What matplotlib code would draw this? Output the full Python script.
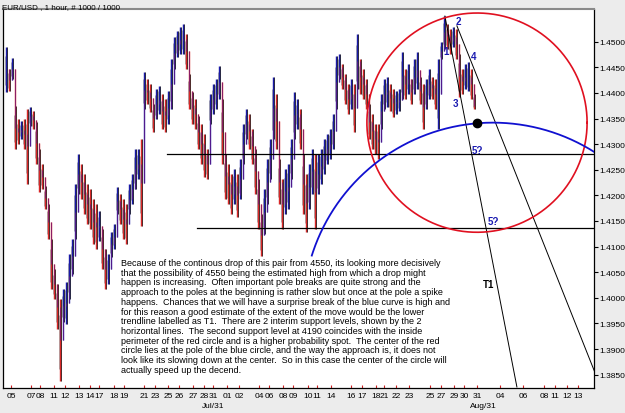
import matplotlib
matplotlib.use('agg')
import matplotlib.pyplot as plt
import matplotlib.transforms as mtransforms
import numpy as np

plt.rcParams["font.family"] = ["Liberation Sans", "DejaVu Sans"]

# price data, one entry per group of hourly bars
highs = [1.4490, 1.4447, 1.4468, 1.4374, 1.4349, 1.4345, 1.4349, 1.4369, 1.4373, 1.4365,
         1.4343, 1.4291, 1.4261, 1.4218, 1.4183, 1.4115, 1.4056, 1.4027, 1.3998, 1.4017,
         1.4031, 1.4086, 1.4115, 1.4222, 1.4281, 1.4261, 1.4242, 1.4222, 1.4212, 1.4193,
         1.4183, 1.4169, 1.4134, 1.4095, 1.4086, 1.4129, 1.4144, 1.4216, 1.4203, 1.4193,
         1.4183, 1.4222, 1.4242, 1.4291, 1.4291, 1.4310, 1.4441, 1.4427, 1.4417, 1.4378,
         1.4408, 1.4414, 1.4398, 1.4388, 1.4404, 1.4466, 1.4509, 1.4521, 1.4529, 1.4535,
         1.4515, 1.4437, 1.4402, 1.4388, 1.4355, 1.4339, 1.4320, 1.4291, 1.4398, 1.4417,
         1.4427, 1.4453, 1.4388, 1.4281, 1.4261, 1.4242, 1.4252, 1.4242, 1.4271, 1.4339,
         1.4369, 1.4359, 1.4330, 1.4291, 1.4232, 1.4164, 1.4212, 1.4271, 1.4310, 1.4431,
         1.4398, 1.4271, 1.4232, 1.4252, 1.4261, 1.4310, 1.4402, 1.4388, 1.4369, 1.4281,
         1.4242, 1.4261, 1.4291, 1.4281, 1.4281, 1.4291, 1.4310, 1.4320, 1.4330, 1.4359,
         1.4472, 1.4476, 1.4456, 1.4437, 1.4417, 1.4427, 1.4417, 1.4515, 1.4466, 1.4447,
         1.4427, 1.4378, 1.4359, 1.4339, 1.4339, 1.4398, 1.4427, 1.4431, 1.4417, 1.4408,
         1.4404, 1.4408, 1.4480, 1.4447, 1.4456, 1.4427, 1.4466, 1.4480, 1.4431, 1.4417,
         1.4427, 1.4447, 1.4431, 1.4427, 1.4466, 1.4499, 1.4550, 1.4535, 1.4525, 1.4529,
         1.4525, 1.4476, 1.4447, 1.4456, 1.4460, 1.4447, 1.4398]
lows = [1.4402, 1.4404, 1.4427, 1.4291, 1.4300, 1.4310, 1.4291, 1.4222, 1.4335, 1.4330,
        1.4261, 1.4207, 1.4212, 1.4173, 1.4115, 1.4017, 1.3998, 1.3939, 1.3838, 1.3953,
        1.3949, 1.3998, 1.4047, 1.4115, 1.4203, 1.4193, 1.4164, 1.4144, 1.4134, 1.4105,
        1.4095, 1.4111, 1.4056, 1.4017, 1.4027, 1.4080, 1.4095, 1.4164, 1.4144, 1.4115,
        1.4105, 1.4164, 1.4183, 1.4212, 1.4232, 1.4140, 1.4369, 1.4378, 1.4363, 1.4324,
        1.4349, 1.4359, 1.4330, 1.4324, 1.4339, 1.4369, 1.4447, 1.4470, 1.4476, 1.4476,
        1.4447, 1.4369, 1.4339, 1.4330, 1.4291, 1.4261, 1.4236, 1.4232, 1.4339, 1.4359,
        1.4369, 1.4388, 1.4261, 1.4193, 1.4183, 1.4164, 1.4183, 1.4158, 1.4193, 1.4261,
        1.4310, 1.4291, 1.4261, 1.4203, 1.4134, 1.4082, 1.4125, 1.4183, 1.4232, 1.4310,
        1.4291, 1.4183, 1.4134, 1.4164, 1.4173, 1.4232, 1.4310, 1.4330, 1.4291, 1.4164,
        1.4129, 1.4173, 1.4203, 1.4134, 1.4203, 1.4222, 1.4242, 1.4261, 1.4271, 1.4291,
        1.4369, 1.4427, 1.4408, 1.4378, 1.4359, 1.4369, 1.4324, 1.4408, 1.4398, 1.4388,
        1.4369, 1.4310, 1.4291, 1.4281, 1.4271, 1.4330, 1.4369, 1.4373, 1.4365, 1.4353,
        1.4359, 1.4365, 1.4388, 1.4388, 1.4398, 1.4378, 1.4398, 1.4408, 1.4378, 1.4330,
        1.4369, 1.4388, 1.4388, 1.4369, 1.4330, 1.4466, 1.4486, 1.4486, 1.4476, 1.4490,
        1.4466, 1.4392, 1.4398, 1.4408, 1.4404, 1.4388, 1.4369]
last_price = 1.4374

tick_pos = [1.7, 8.3, 11.3, 16, 19.7, 24.3, 28, 31, 36, 39.3, 46, 49.7, 54, 57.7, 62.3,
            66, 69, 73.7, 77.7, 84.3, 87.7, 92.3, 95.7, 100.7, 103.7, 108.3, 115, 118.7,
            123.3, 126, 130, 134.3, 141.3, 145, 149.3, 152.7, 157, 164.7, 172.3, 179.3,
            183, 187, 190.7]
tick_labels = ["05", "07", "08", "11", "12", "13", "14", "17", "18", "19", "21", "23",
               "25", "26", "27", "28", "31", "01", "02", "04", "06", "08", "09", "10",
               "11", "14", "16", "17", "18", "21", "22", "23", "25", "27", "29", "30",
               "31", "04", "06", "08", "11", "12", "13"]
month_pos = [69, 159]
month_labels = ["Jul/31", "Aug/31"]

# drawing objects
support_levels = [1.4280, 1.4136]
support_start = [53.7, 63.7]
red_center = (157, 1.4342)
red_radius = (36.7, 0.0214)
blue_center = (162.3, 1.3971)
blue_radius = (63.3, 0.0371)
t1_line = ([146.3, 170.3], [1.4550, 1.3826])
upper_line = ([150.3, 200], [1.4531, 1.3800])
wave_labels = ["1", "2", "3", "4", "5?", "5?"]
wave_x = [146.7, 150.9, 149.7, 155.9, 157.3, 162.6]
wave_y = [1.4482, 1.4540, 1.4380, 1.4472, 1.4289, 1.4150]

note = ("Because of the continous drop of this pair from 4550, its looking more decisively\n"
        "that the possibility of 4550 being the estimated high from which a drop might\n"
        "happen is increasing.  Often important pole breaks are quite strong and the\n"
        "approach to the poles at the beginning is rather slow but once at the pole a spike\n"
        "happens.  Chances that we will have a surprise break of the blue curve is high and\n"
        "for this reason a good estimate of the extent of the move would be the lower\n"
        "trendline labelled as T1.  There are 2 interim support levels, shown by the 2\n"
        "horizontal lines.  The second support level at 4190 coincides with the inside\n"
        "perimeter of the red circle and is a higher probability spot.  The center of the red\n"
        "circle lies at the pole of the blue circle, and the way the approach is, it does not\n"
        "look like its slowing down at the center.  So in this case the center of the circle will\n"
        "actually speed up the decend.")

fig = plt.figure(figsize=(6.25, 4.14), dpi=100, facecolor='#ececec')
ax = fig.add_axes([0.004, 0.0604, 0.9464, 0.9154])
ax.set_facecolor('white')

highs = np.array(highs)
lows = np.array(lows)
x = np.arange(len(highs))
mids = (highs + lows) / 2
prev = np.concatenate([[mids[0]], mids[:-1]])
closes = mids.copy()
closes[-1] = last_price

# wicks and bodies
ax.vlines(x + 0.42, lows, highs, color='#1a1a1a', lw=0.65, zorder=2)
ax.vlines(x - 0.42, lows + (highs - lows) * 0.15, highs - (highs - lows) * 0.2,
          color='#9a9a9a', lw=0.55, zorder=2)
up = closes >= prev
ax.vlines(x[up], np.minimum(prev, lows)[up], highs[up], color='#1a1aa8', lw=1.0, zorder=3)
ax.vlines(x[~up], lows[~up], np.maximum(prev, highs)[~up], color='#d82828', lw=1.0, zorder=3)
ax.vlines(x + 0.15, np.minimum(prev, closes), np.maximum(prev, closes), color='#6a1a80',
          lw=0.5, zorder=4)

# support lines
for lvl, start in zip(support_levels, support_start):
    ax.plot([start, 200], [lvl, lvl], color='black', lw=0.9, zorder=5)

# trend lines
ax.plot(t1_line[0], t1_line[1], color='black', lw=0.7, zorder=5)
ax.plot(upper_line[0], upper_line[1], color='black', lw=0.7, zorder=5)

# red circle
t = np.linspace(0, 2 * np.pi, 400)
ax.plot(red_center[0] + red_radius[0] * np.cos(t), red_center[1] + red_radius[1] * np.sin(t),
        color='#e01020', lw=1.2, zorder=6)

# blue circle arc
t = np.linspace(0, np.deg2rad(162.5), 400)
ax.plot(blue_center[0] + blue_radius[0] * np.cos(t), blue_center[1] + blue_radius[1] * np.sin(t),
        color='#1010d0', lw=1.3, zorder=6)

ax.plot([red_center[0]], [red_center[1]], 'o', color='black', ms=6, zorder=7)

for lab, wx, wy in zip(wave_labels, wave_x, wave_y):
    ax.text(wx, wy, lab, color='#1a1ab0', fontsize=7, fontweight='bold',
            ha='center', va='center', zorder=8)
ax.text(160.7, 1.4027, "T1", color='black', fontsize=7, fontweight='bold',
        ha='center', va='center', zorder=8)

ax.text(0.2003, 0.343, note, transform=ax.transAxes, fontsize=6.45, va='top', ha='left',
        linespacing=1.1, zorder=8)

ax.set_xlim(-1.17, 196)
ax.set_ylim(1.3824, 1.45638)

ax.yaxis.tick_right()
ax.set_yticks(np.arange(1.385, 1.4501, 0.005))
ax.yaxis.set_major_formatter(plt.FormatStrFormatter('%.4f'))
ax.tick_params(axis='y', direction='out', length=3, width=0.8, labelsize=6.0, pad=1)
ax.set_xticks(tick_pos)
ax.set_xticklabels(tick_labels)
ax.tick_params(axis='x', direction='in', length=2.5, width=0.8, colors='#d02020',
               labelcolor='black', labelsize=6.0, pad=3)

trans = mtransforms.blended_transform_factory(ax.transData, ax.transAxes)
for mp, ml in zip(month_pos, month_labels):
    ax.text(mp, -0.047, ml, transform=trans, fontsize=6.0, ha='center', va='center')

for side in ['left', 'bottom', 'right']:
    ax.spines[side].set_color('black')
    ax.spines[side].set_linewidth(0.9)
ax.spines['top'].set_color('#8a8a8a')
ax.spines['top'].set_linewidth(1.5)

ax.text(1.004, last_price, "%.4f" % last_price, transform=trans, fontsize=6.0,
        color='#1a1ab0', ha='left', va='center',
        bbox=dict(boxstyle='square,pad=0.15', fc='white', ec='#d02020', lw=0.8))

fig.text(0.004, 0.979, "EUR/USD , 1 hour, # 1000 / 1000", fontsize=5.8, va='baseline', ha='left')

fig.savefig('out.png', dpi=100, facecolor=fig.get_facecolor())
